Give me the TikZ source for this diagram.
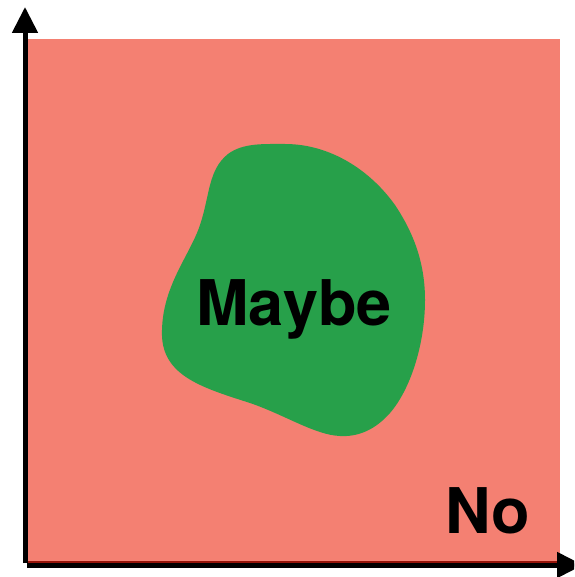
\documentclass[tikz,border=0pt]{standalone}
\usepackage{fontspec}
\setmainfont{TeX Gyre Heros}
\usetikzlibrary{arrows.meta}
\definecolor{nored}{RGB}{244,128,114}
\definecolor{noredline}{RGB}{150,20,10}
\definecolor{maybegreen}{RGB}{39,160,74}
\tikzset{
  axis/.style={line width=5pt, -{Triangle[length=26pt,width=25pt]}},
  bigtext/.style={inner sep=0pt, anchor=base, font=\fontsize{63pt}{70pt}\selectfont\bfseries, text=black}
}
\begin{document}
\begin{tikzpicture}[x=1pt,y=-1pt]
\useasboundingbox (0,0) rectangle (574,577);
\clip (0,0) rectangle (574,577);
\fill[nored] (28,39) rectangle (560,562);
\draw[noredline, line width=2pt] (28,561.5) -- (560,561.5);
\fill[maybegreen] (285,144)
  .. controls (330,144) and (370,170) .. (395,205)
  .. controls (415,235) and (425,265) .. (425,300)
  .. controls (425,345) and (410,390) .. (390,413)
  .. controls (375,430) and (358,437) .. (340,436)
  .. controls (315,435) and (285,415) .. (250,403)
  .. controls (200,387) and (160,375) .. (162,330)
  .. controls (163,285) and (190,255) .. (200,225)
  .. controls (210,195) and (208,170) .. (228,154)
  .. controls (243,143) and (262,144) .. (285,144) -- cycle;
\coordinate (ybot) at (25,563);
\coordinate (ytop) at (25,7);
\coordinate (xleft) at (27,565);
\coordinate (xright) at (583,565);
\draw[axis] (ybot) -- (ytop);
\draw[axis] (xleft) -- (xright);
\node[bigtext] (maybe) at (294,325) {Maybe};
\node[bigtext] (no) at (488,533) {No};
\end{tikzpicture}
\end{document}
